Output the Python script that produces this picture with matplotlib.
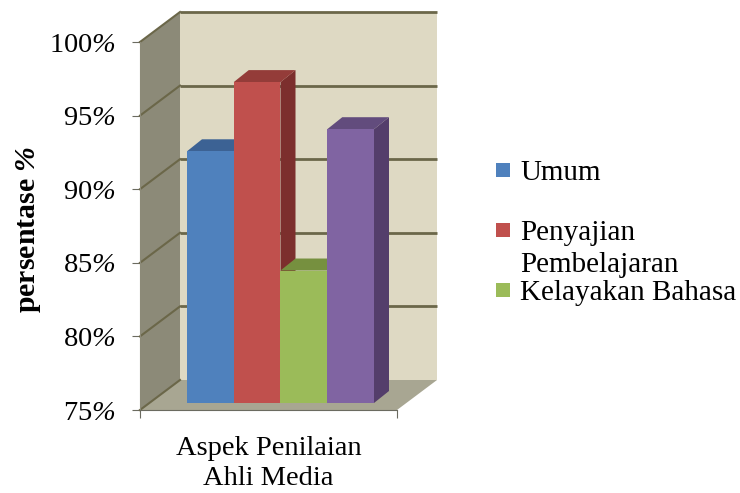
from matplotlib import pyplot as plt
from matplotlib.patches import Polygon, Rectangle

plt.rcParams['font.family'] = ['Liberation Serif', 'DejaVu Serif']
plt.rcParams['mathtext.fontset'] = 'custom'
plt.rcParams['mathtext.rm'] = 'Liberation Serif:italic'
plt.rcParams['mathtext.bfit'] = 'Liberation Serif:italic:bold'

series = ["Umum", "Penyajian", "Kelayakan Bahasa", ""]
values = [92.1, 96.8, 84.0, 93.6]
colors = ["#4f81bd", "#c0504d", "#9bbb59", "#8064a2"]
tops = ["#3c6294", "#943c39", "#76903f", "#624c7d"]
sides = ["#345680", "#7c2f2d", "#64793a", "#543e6b"]
legend_labels = ["Umum", "Penyajian\nPembelajaran", "Kelayakan Bahasa"]
ticks = [75, 80, 85, 90, 95, 100]
tick_labels = ["75", "80", "85", "90", "95", "100"]
category = "Aspek Penilaian\nAhli Media"

W, H = 740, 493
fig = plt.figure(figsize=(W / 100, H / 100), dpi=100)
ax = fig.add_axes([140 / W, 1 - 410 / H, 257 / W, 368 / H])
ax.set_xlim(0, 1)
ax.set_ylim(75, 100)

# depth of the fake 3d box and of the bars, in data units
dx = 40 / 257
dy = 30 / 14.72
bar_dx = 15 / 257
bar_dy = 12 / 14.72
bar_w = 46.75 / 257
bar_x0 = 47 / 257
bar_off = 7 / 14.72


def poly(pts, color, z):
    ax.add_patch(Polygon(pts, closed=True, facecolor=color, edgecolor="none",
                         zorder=z, clip_on=False))


poly([(dx, 75 + dy), (1 + dx, 75 + dy), (1 + dx, 100 + dy), (dx, 100 + dy)], "#ded9c3", 1)
poly([(0, 75), (dx, 75 + dy), (dx, 100 + dy), (0, 100)], "#8c8a78", 1)
poly([(0, 75), (1, 75), (1 + dx, 75 + dy), (dx, 75 + dy)], "#a8a692", 1)

for t in ticks:
    if t > 75:
        ax.plot([dx, 1 + dx], [t + dy, t + dy], color="#6b6749", lw=2, zorder=2,
                clip_on=False, solid_capstyle="butt")
    ax.plot([0, dx], [t, t + dy], color="#6b6749", lw=1.5, zorder=2, clip_on=False)

for i, v in enumerate(values):
    x = bar_x0 + i * bar_w
    b = 75 + bar_off
    t = v + bar_off
    z = 3 + i
    poly([(x + bar_w, b), (x + bar_w + bar_dx, b + bar_dy),
          (x + bar_w + bar_dx, t + bar_dy), (x + bar_w, t)], sides[i], z)
    poly([(x, t), (x + bar_dx, t + bar_dy),
          (x + bar_w + bar_dx, t + bar_dy), (x + bar_w, t)], tops[i], z)
    ax.bar(x, v - 75, bottom=b, width=bar_w, align="edge", color=colors[i], zorder=z)

for name in ["top", "right"]:
    ax.spines[name].set_visible(False)
ax.spines["left"].set_color("#8c8a78")
ax.spines["bottom"].set_color("#6b6b60")
ax.patch.set_visible(False)

ax.set_yticks(ticks)
ax.set_yticklabels([s + r"$\mathrm{\%}$" for s in tick_labels], fontsize=20.5)
ax.set_xticks([0, 1])
ax.set_xticklabels(["", ""])
ax.tick_params(axis="both", length=5.5, color="#6b6b60")
ax.tick_params(axis="y", pad=12)
ax.text(0.5, -0.072, category, transform=ax.transAxes, ha="center", va="top",
        fontsize=20.5, linespacing=1.24)
ax.set_ylabel(r"persentase $\mathbfit{\%}$", fontsize=21.5, fontweight="bold")
ax.yaxis.set_label_coords(-0.378, 0.49)

# legend, placed by hand because the wrapped entry breaks the even spacing
leg_y = [170, 230, 290]
for lab, c, y in zip(legend_labels, colors, leg_y):
    fig.add_artist(Rectangle((496 / W, 1 - (y + 7) / H), 14 / W, 14 / H,
                             transform=fig.transFigure, facecolor=c, edgecolor="none"))
    fig.text(520 / W, 1 - (y - 10) / H, lab, ha="left", va="top", fontsize=21,
             linespacing=1.32)

fig.savefig("out.png", dpi=100)
